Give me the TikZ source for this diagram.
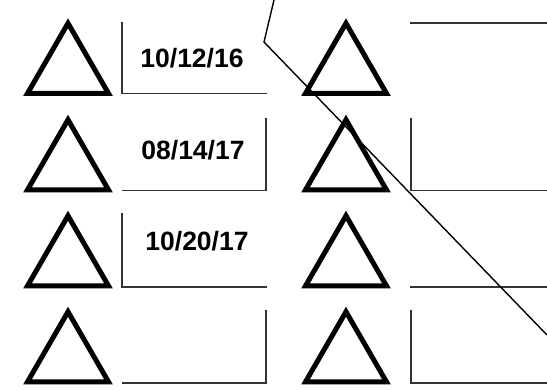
\documentclass[tikz,border=0pt]{standalone}
\usepackage{fontspec}
\setmainfont{Liberation Sans}
\usetikzlibrary{shapes.geometric}

\begin{document}
\begin{tikzpicture}[x=1pt, y=-1pt,
    tri/.style={draw, regular polygon, regular polygon sides=3,
        minimum size=93.5pt, inner sep=0pt, line width=5pt},
    frame/.style={line width=1.7pt, black!80},
    datelabel/.style={font=\fontsize{26.5}{31}\selectfont\bfseries}]

    \useasboundingbox (0,0) rectangle (547,389);

    % ================= Triangles =================
    \foreach \r/\yc in {1/70, 2/166.5, 3/262.5, 4/358.5} {
        \node[tri] (triL\r) at (68,\yc) {};
        \node[tri] (triR\r) at (346,\yc) {};
    }

    % ================= Left column frames =================
    \draw[frame] (122,22) -- (122,93.5) -- (267,93.5);
    \draw[frame] (122,190.5) -- (266,190.5) -- (266,118);
    \draw[frame] (122,213) -- (122,287) -- (267,287);
    \draw[frame] (122,383) -- (266,383) -- (266,310);

    % Dates
    \node[datelabel] (date1) at (192,58) {10/12/16};
    \node[datelabel] (date2) at (193,150) {08/14/17};
    \node[datelabel] (date3) at (197,241.5) {10/20/17};

    % ================= Right column frames =================
    \draw[frame] (410,23) -- (547,23);
    \draw[frame] (411,118) -- (411,190.5) -- (547,190.5);
    \draw[frame] (410,287) -- (547,287);
    \draw[frame] (411,310) -- (411,383) -- (547,383);

    % ================= Crossing line =================
    \draw[line width=1.4pt] (274,0) -- (264,42) -- (547,335);

\end{tikzpicture}
\end{document}
